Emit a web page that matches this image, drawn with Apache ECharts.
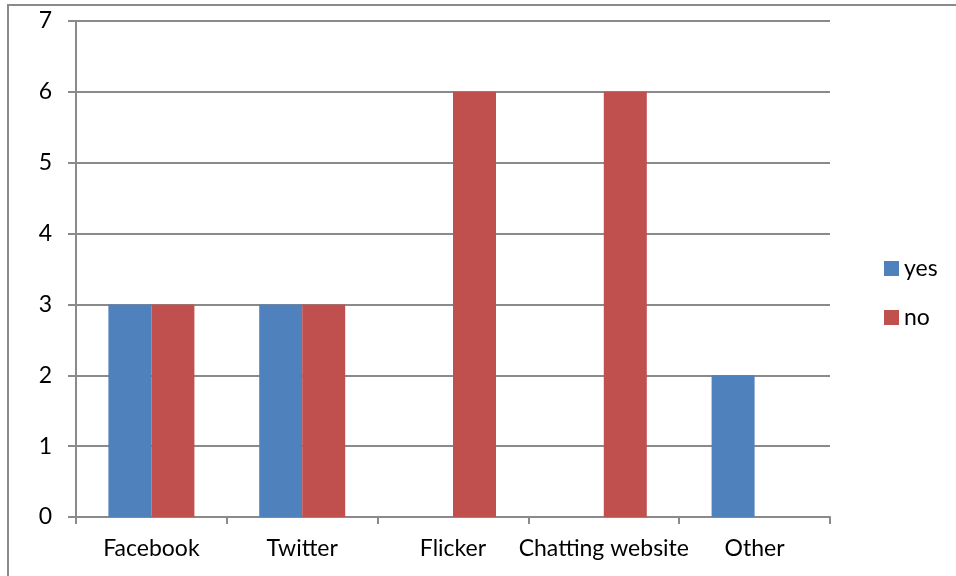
<!DOCTYPE html>
<html><head><meta charset="utf-8">
<script src="https://cdn.jsdelivr.net/npm/echarts@6/dist/echarts.min.js"></script>
<style>html,body{margin:0;padding:0;background:#fff}#c{width:956px;height:576px}</style>
</head><body><div id="c"></div>
<script>
const categories = ['Facebook', 'Twitter', 'Flicker', 'Chatting website', 'Other'];
const yesValues = [3, 3, 0, 0, 2];
const noValues = [3, 3, 6, 6, 0];
const seriesNames = ['yes', 'no'];

const chart = echarts.init(document.getElementById('c'));
const font = 'Lato, "Open Sans", sans-serif';
const gray = '#8a8a8a';
chart.setOption({
  animation: false,
  textStyle: { fontFamily: font },
  graphic: [{
    type: 'polyline',
    shape: { points: [[8, 700], [8, 5], [1000, 5]] },
    style: { stroke: gray, lineWidth: 2, fill: null },
    silent: true
  }],
  grid: { left: 76, right: 126, top: 21, bottom: 59 },
  legend: {
    orient: 'vertical', left: 879, top: 252,
    itemWidth: 15, itemHeight: 15, itemGap: 26,
    icon: 'rect',
    textStyle: { fontSize: 23, color: '#000', fontFamily: font },
    data: seriesNames
  },
  xAxis: {
    type: 'category', data: categories,
    axisLine: { lineStyle: { color: gray, width: 2 } },
    axisTick: { show: true, length: 7, alignWithLabel: false, lineStyle: { color: gray, width: 2 } },
    axisLabel: { color: '#000', fontSize: 23, margin: 20, fontFamily: font, interval: 0 },
    splitLine: { show: false }
  },
  yAxis: {
    type: 'value', min: 0, max: 7, interval: 1,
    axisLine: { show: true, lineStyle: { color: gray, width: 2 } },
    axisTick: { show: true, length: 8, lineStyle: { color: gray, width: 2 } },
    axisLabel: { color: '#000', fontSize: 23, margin: 24, fontFamily: font },
    splitLine: { show: true, lineStyle: { color: gray, width: 2 } }
  },
  series: [
    { name: seriesNames[0], type: 'bar', data: yesValues, barWidth: 43, barGap: '0%',
      itemStyle: { color: '#4F81BD' } },
    { name: seriesNames[1], type: 'bar', data: noValues, barWidth: 43, barGap: '0%',
      itemStyle: { color: '#C0504D' } }
  ]
});
</script></body></html>
